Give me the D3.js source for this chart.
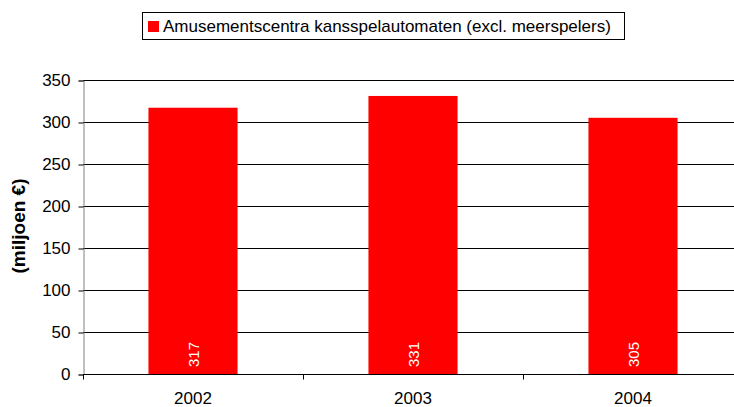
<!DOCTYPE html>
<html>
<head>
<meta charset="utf-8">
<script src="https://cdn.jsdelivr.net/npm/d3@7"></script>
<style>
  body { margin: 0; background: #fff; }
  svg { display: block; font-family: "Liberation Sans", Arial, sans-serif; }
</style>
</head>
<body>
<svg width="734" height="407"></svg>
<script>
var years = ['2002', '2003', '2004'];
var values = [317, 331, 305];
var yTicks = [0, 50, 100, 150, 200, 250, 300, 350];
var seriesName = 'Amusementscentra kansspelautomaten (excl. meerspelers)';

var svg = d3.select('svg');

var x = d3.scaleBand().domain(years).range([83, 743]).paddingInner(0.595).paddingOuter(0.2975);
var y = d3.scaleLinear().domain([0, 350]).range([374, 80]);

// gridlines
svg.append('g').selectAll('line').data(yTicks.filter(d => d > 0)).enter().append('line')
	.attr('x1', 83).attr('x2', 734)
	.attr('y1', d => y(d) + 0.5).attr('y2', d => y(d) + 0.5)
	.style('stroke', '#000').style('stroke-width', 1);

// bars
svg.append('g').selectAll('rect').data(values).enter().append('rect')
	.attr('x', (d, i) => x(years[i]))
	.attr('width', x.bandwidth())
	.attr('y', d => y(d))
	.attr('height', d => y(0) - y(d))
	.style('fill', '#ff0000');

// value labels
svg.append('g').selectAll('text').data(values).enter().append('text')
	.attr('transform', (d, i) => 'translate(' + (x(years[i]) + x.bandwidth() / 2 + 5.5) + ',367) rotate(-90)')
	.attr('text-anchor', 'start')
	.style('font-size', '15px').style('fill', '#fff')
	.text(d => d);

// y axis
var yAxis = svg.append('g').attr('transform', 'translate(83.5,0.5)')
	.call(d3.axisLeft(y).tickValues(yTicks).tickSize(5).tickPadding(8));
yAxis.select('.domain').style('stroke', '#808080');
yAxis.selectAll('.tick line').style('stroke', '#000');
yAxis.selectAll('text').style('font-size', '17px').style('font-family', '"Liberation Sans", Arial, sans-serif').style('fill', '#000');

// x axis
var xAxis = svg.append('g').attr('transform', 'translate(0,374.5)');
xAxis.append('line').attr('x1', 83).attr('x2', 734).style('stroke', '#000');
xAxis.selectAll('line.tk').data([83, 303, 523]).enter().append('line')
	.attr('class', 'tk')
	.attr('x1', d => d + 0.5).attr('x2', d => d + 0.5).attr('y1', 0).attr('y2', 5)
	.style('stroke', '#000');
xAxis.selectAll('text').data(years).enter().append('text')
	.attr('x', d => x(d) + x.bandwidth() / 2)
	.attr('y', 29)
	.attr('text-anchor', 'middle')
	.style('font-size', '17px')
	.text(d => d);

// y axis title
svg.append('text')
	.attr('transform', 'translate(25,226) rotate(-90)')
	.attr('text-anchor', 'middle')
	.style('font-size', '19px').style('font-weight', 'bold')
	.text('(miljoen €)');

// legend
var legend = svg.append('g');
legend.append('rect').attr('x', 142.5).attr('y', 12.5).attr('width', 482).attr('height', 27)
	.style('fill', '#fff').style('stroke', '#000');
legend.append('rect').attr('x', 148).attr('y', 21).attr('width', 11).attr('height', 11).style('fill', '#ff0000');
legend.append('text').attr('x', 163).attr('y', 32)
	.style('font-size', '17px')
	.text(seriesName);
</script>
</body>
</html>
